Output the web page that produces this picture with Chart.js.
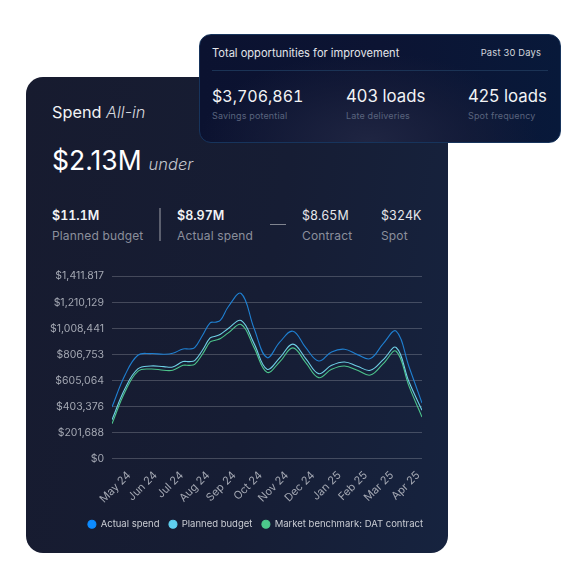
<!DOCTYPE html>
<html>
<head>
<meta charset="utf-8">
<script src="https://cdn.jsdelivr.net/npm/chart.js@4"></script>
<style>
  html, body { margin: 0; padding: 0; background: #fff; }
  body { width: 588px; height: 588px; position: relative; overflow: hidden; font-family: Inter, "Noto Sans", sans-serif; }
  .card { position: absolute; box-sizing: border-box; }
  #spend { left: 26px; top: 77px; width: 422px; height: 476px; border-radius: 17px;
    background: linear-gradient(100deg, #171b2f 0%, #161d34 55%, #16233f 100%); }
  #opps { left: 199px; top: 34px; width: 362px; height: 109px; border-radius: 12px; border: 1px solid #17345c;
    background: radial-gradient(ellipse 170px 90px at 47% 100%, #1f2542 0%, rgba(24,30,58,0.6) 60%, rgba(10,20,50,0) 100%), linear-gradient(90deg, #0b1230 0%, #0c1433 50%, #08193a 100%); }
  .t { position: absolute; white-space: nowrap; line-height: 1; }
  .t i { font-weight: 300; }
  .num { font-feature-settings: 'tnum'; }
  #chartBox { position: absolute; left: 20px; top: 260px; width: 468px; height: 279px; }
  .rule { position: absolute; }
</style>
</head>
<body>
<div class="card" id="spend"></div>
<div class="t" style="left:52px;top:104px;font-size:16.3px;color:#f2f3f5">Spend <i style="color:#d5d7dc">All-in</i></div>
<div class="t" style="left:52px;top:147px;font-size:26.5px;color:#fff">$2.13M<i style="font-size:16.5px;color:#c3c6cd;margin-left:7px">under</i></div>

<div class="t num" style="left:52px;top:210px;font-size:12.5px;font-weight:600;color:#f2f3f5">$11.1M</div>
<div class="t" style="left:52px;top:230px;font-size:12px;color:#8b8f9c;letter-spacing:.15px">Planned budget</div>
<div class="rule" style="left:159px;top:208px;width:2px;height:33px;background:#5b5f6e"></div>
<div class="t num" style="left:177px;top:210px;font-size:12.5px;font-weight:600;color:#f2f3f5">$8.97M</div>
<div class="t" style="left:177px;top:230px;font-size:12px;color:#8b8f9c;letter-spacing:.15px">Actual spend</div>
<div class="rule" style="left:270px;top:224px;width:16px;height:1px;background:#80848f"></div>
<div class="t num" style="left:302px;top:210px;font-size:12.4px;color:#e6e7ea">$8.65M</div>
<div class="t" style="left:302px;top:230px;font-size:12px;color:#8b8f9c;letter-spacing:.15px">Contract</div>
<div class="t num" style="left:381px;top:210px;font-size:12.4px;color:#e6e7ea">$324K</div>
<div class="t" style="left:381px;top:230px;font-size:12px;color:#8b8f9c;letter-spacing:.15px">Spot</div>

<div id="chartBox"><canvas id="spendChart" width="468" height="279"></canvas></div>

<div class="card" id="opps"></div>
<div class="t" style="left:212px;top:48px;font-size:11.1px;color:#e3e5ea">Total opportunities for improvement</div>
<div class="t" style="right:47px;top:48px;font-size:9.3px;color:#d5d8de;letter-spacing:.2px">Past 30 Days</div>
<div class="rule" style="left:212px;top:70px;width:336px;height:1px;background:#1b3355"></div>
<div class="t num" style="left:212px;top:88px;font-size:16px;color:#f2f3f5">$3,706,861</div>
<div class="t" style="left:346px;top:88px;font-size:16.8px;color:#f2f3f5">403 loads</div>
<div class="t" style="left:468px;top:88px;font-size:16.8px;color:#f2f3f5">425 loads</div>
<div class="t" style="left:212px;top:111px;font-size:9px;color:#5a647e;letter-spacing:.15px">Savings potential</div>
<div class="t" style="left:346px;top:111px;font-size:9px;color:#5a647e;letter-spacing:.15px">Late deliveries</div>
<div class="t" style="left:468px;top:111px;font-size:9px;color:#5a647e;letter-spacing:.15px">Spot frequency</div>

<script>
// Month labels on the x axis
const months = ['May 24', 'Jun 24', 'Jul 24', 'Aug 24', 'Sep 24', 'Oct 24', 'Nov 24', 'Dec 24', 'Jan 25', 'Feb 25', 'Mar 25', 'Apr 25'];

// Tick labels as printed (the top one really has a dot)
const yTickLabels = ['$0', '$201,688', '$403,376', '$605,064', '$806,753', '$1,008,441', '$1,210,129', '$1,411.817'];
const yStep = 201688;

// Where the values were read, in half-month steps (closer together round the Aug/Sep shoulders)
const samples = [0, 1, 2, 3, 4, 4.7, 5.5, 6, 6.4, 7, 7.6, 8, 8.4, 9, 10, 11, 12, 13, 14, 15, 16, 17, 18, 19, 20, 21, 22, 23, 24];

// Values
const actualSpend = [400000, 646000, 801000, 814000, 809000, 816000, 850000, 850000, 860000, 954000, 1052000, 1057000, 1072000, 1176000, 1279000, 1008000, 783000, 904000, 987000, 860000, 757000, 827000, 848000, 806000, 775000, 891000, 987000, 710000, 431000];
const plannedBudget = [302000, 542000, 695000, 718000, 713000, 710000, 752000, 752000, 760000, 840000, 935000, 948000, 964000, 1008000, 1070000, 891000, 693000, 783000, 887000, 775000, 659000, 723000, 749000, 716000, 685000, 767000, 861000, 594000, 375000];
const datBenchmark = [271000, 516000, 677000, 695000, 685000, 685000, 723000, 723000, 731000, 809000, 904000, 917000, 930000, 974000, 1039000, 860000, 669000, 752000, 858000, 744000, 628000, 692000, 718000, 685000, 648000, 736000, 832000, 560000, 323000];

const legendColors = ['#0d8bff', '#5fd0f0', '#4cc98c'];

const toPoints = arr => arr.map((v, i) => ({ x: samples[i], y: v }));

function lineSet(label, values, color) {
  return {
    label: label,
    data: toPoints(values),
    borderColor: color,
    backgroundColor: color,
    borderWidth: 1.1,
    pointRadius: 0,
    tension: 0.4
  };
}

// The legend keeps a padding on its right; the reference text runs up to the plot edge
const legendToEdge = {
  id: 'legendToEdge',
  afterLayout: chart => { chart.legend.right += 10.5; }
};

new Chart(document.getElementById('spendChart'), {
  type: 'line',
  plugins: [legendToEdge],
  data: {
    datasets: [
      lineSet('Actual spend', actualSpend, '#1f7fd0'),
      lineSet('Planned budget', plannedBudget, '#6fd0e6'),
      lineSet('Market benchmark: DAT contract', datBenchmark, '#4cc48c')
    ]
  },
  options: {
    responsive: false,
    animation: false,
    layout: { padding: { top: 16.3, right: 66, left: 0, bottom: 0 } },
    plugins: {
      tooltip: { enabled: false },
      legend: {
        position: 'bottom',
        align: 'end',
        labels: {
          usePointStyle: true,
          pointStyle: 'circle',
          pointStyleWidth: 8,
          boxHeight: 5.7,
          padding: 9.5,
          color: '#c9ccd3',
          font: { family: 'Inter', size: 9.5 },
          generateLabels: chart => Chart.defaults.plugins.legend.labels.generateLabels(chart).map((item, i) => {
            item.fillStyle = legendColors[i];
            item.strokeStyle = legendColors[i];
            return item;
          })
        }
      }
    },
    scales: {
      x: {
        type: 'linear',
        min: 0,
        max: 24,
        grid: { display: false },
        border: { display: false },
        afterBuildTicks: scale => {
          // labels sit a little off the sampling grid
          scale.ticks = months.map((m, i) => ({ value: i * 2.035 + 1.32 }));
        },
        afterFit: scale => { scale.height = 51.2; },
        ticks: {
          autoSkip: false,
          minRotation: 45,
          maxRotation: 45,
          padding: 2,
          color: '#a3a7b2',
          font: { family: 'Inter', size: 11 },
          callback: (value, index) => months[index]
        }
      },
      y: {
        min: 0,
        max: yStep * 7,
        grid: { color: 'rgba(255,255,255,0.2)', lineWidth: 1, drawTicks: false },
        border: { display: false },
        afterFit: scale => { scale.width = 92; },
        ticks: {
          stepSize: yStep,
          padding: 8,
          color: '#a3a7b2',
          font: { family: 'Inter', size: 10.5 },
          callback: (value, index) => yTickLabels[index]
        }
      }
    }
  }
});
</script>
</body>
</html>
